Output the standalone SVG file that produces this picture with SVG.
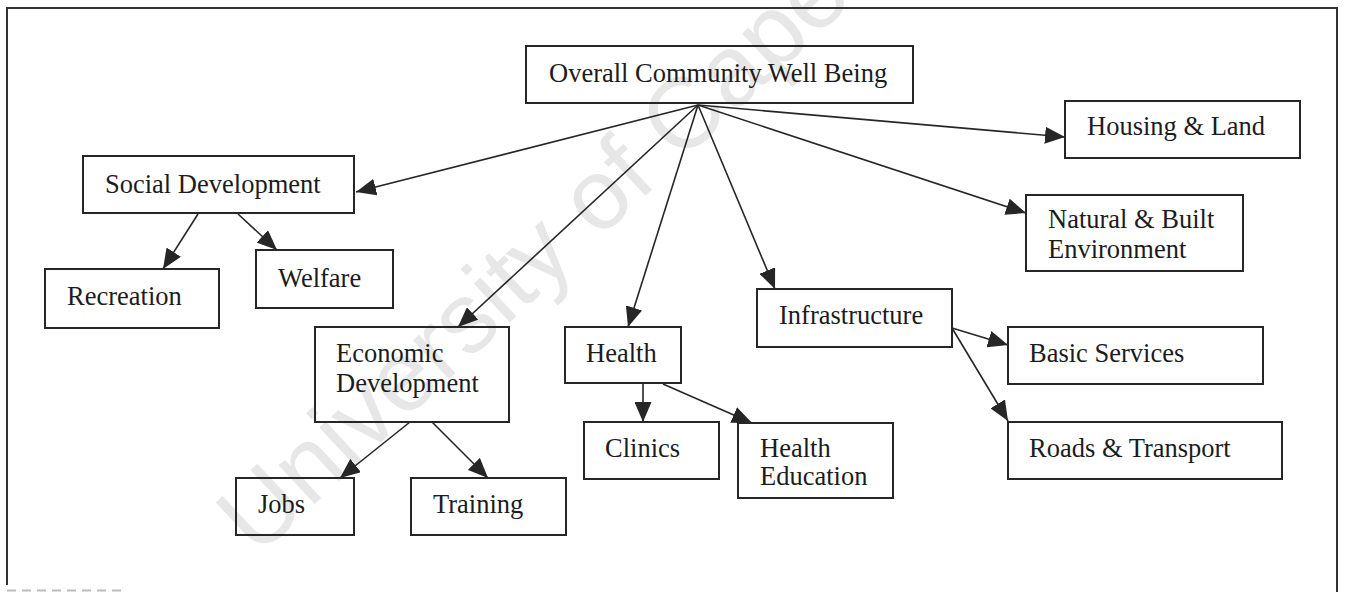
<svg xmlns="http://www.w3.org/2000/svg" width="1346" height="592" viewBox="0 0 1346 592">
<defs>
<style>
.box{fill:none;stroke:#262626;stroke-width:2}
.lbl{font-family:"Liberation Serif","Times New Roman",serif;font-size:26.5px;fill:#1c1c1c}
.con{stroke:#262626;stroke-width:1.6;fill:none;marker-end:url(#ah)}
.wm{font-family:"Liberation Sans",Arial,sans-serif;font-size:100px;fill:#e7e7e7}
</style>
<marker id="ah" viewBox="0 0 20 17" refX="20" refY="8.5" markerWidth="20" markerHeight="17" markerUnits="userSpaceOnUse" orient="auto">
<path d="M0,0 L20,8.5 L0,17 z" fill="#262626"/>
</marker>
</defs>
<rect width="1346" height="592" fill="#ffffff"/>
<text class="wm" transform="translate(257,558) rotate(-43)">University of Cape</text>
<g id="frame">
<path d="M7,585 V8 H1337 V592" fill="none" stroke="#333" stroke-width="2"/>
<path d="M7,590.5 H125" fill="none" stroke="#bbb" stroke-width="2" stroke-dasharray="9,6"/>
</g>
<g id="connectors">
<line class="con" x1="698" y1="105" x2="356" y2="192"/>
<line class="con" x1="698" y1="105" x2="458" y2="327"/>
<line class="con" x1="698" y1="105" x2="628" y2="327"/>
<line class="con" x1="698" y1="105" x2="775" y2="289"/>
<line class="con" x1="698" y1="105" x2="1065" y2="137"/>
<line class="con" x1="698" y1="105" x2="1026" y2="213"/>
<line class="con" x1="198" y1="214" x2="163" y2="269"/>
<line class="con" x1="238" y1="214" x2="277" y2="250"/>
<line class="con" x1="410" y1="422" x2="340" y2="478"/>
<line class="con" x1="432" y1="422" x2="488" y2="478"/>
<line class="con" x1="643" y1="384" x2="643" y2="422"/>
<line class="con" x1="663" y1="384" x2="752" y2="423"/>
<line class="con" x1="952" y1="328" x2="1008" y2="345"/>
<line class="con" x1="952" y1="328" x2="1008" y2="421"/>
</g>
<g id="overall"><rect class="box" x="526" y="46" width="387" height="57"/><text class="lbl" x="549" y="82">Overall Community Well Being</text></g>
<g id="social"><rect class="box" x="83" y="156" width="271" height="57"/><text class="lbl" x="105" y="193">Social Development</text></g>
<g id="recreation"><rect class="box" x="45" y="269" width="174" height="59"/><text class="lbl" x="67" y="305">Recreation</text></g>
<g id="welfare"><rect class="box" x="256" y="250" width="137" height="58"/><text class="lbl" x="278" y="287">Welfare</text></g>
<g id="economic"><rect class="box" x="315" y="327" width="194" height="95"/><text class="lbl" x="336" y="362">Economic</text><text class="lbl" x="336" y="392">Development</text></g>
<g id="jobs"><rect class="box" x="236" y="478" width="118" height="57"/><text class="lbl" x="258" y="513">Jobs</text></g>
<g id="training"><rect class="box" x="411" y="478" width="155" height="57"/><text class="lbl" x="433" y="513">Training</text></g>
<g id="health"><rect class="box" x="565" y="327" width="116" height="56"/><text class="lbl" x="586" y="362">Health</text></g>
<g id="clinics"><rect class="box" x="584" y="422" width="135" height="57"/><text class="lbl" x="605" y="457">Clinics</text></g>
<g id="healthed"><rect class="box" x="738" y="423" width="155" height="75"/><text class="lbl" x="760" y="457">Health</text><text class="lbl" x="760" y="485">Education</text></g>
<g id="infrastructure"><rect class="box" x="757" y="289" width="195" height="58"/><text class="lbl" x="779" y="324">Infrastructure</text></g>
<g id="housing"><rect class="box" x="1065" y="101" width="235" height="57"/><text class="lbl" x="1087" y="135">Housing &amp; Land</text></g>
<g id="natural"><rect class="box" x="1026" y="195" width="217" height="76"/><text class="lbl" x="1048" y="228">Natural &amp; Built</text><text class="lbl" x="1048" y="258">Environment</text></g>
<g id="basic"><rect class="box" x="1008" y="327" width="255" height="57"/><text class="lbl" x="1029" y="362">Basic Services</text></g>
<g id="roads"><rect class="box" x="1008" y="422" width="274" height="57"/><text class="lbl" x="1029" y="457">Roads &amp; Transport</text></g>
</svg>
